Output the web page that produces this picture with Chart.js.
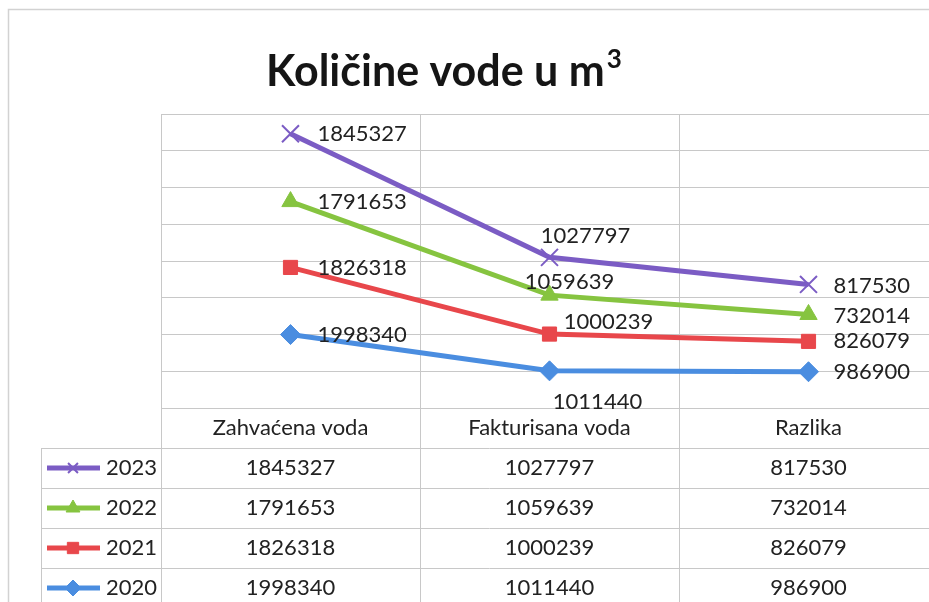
<!DOCTYPE html>
<html>
<head>
<meta charset="utf-8">
<script src="https://cdn.jsdelivr.net/npm/chart.js@4.4.0/dist/chart.umd.min.js"></script>
<style>
  html, body { margin: 0; padding: 0; background: #fff; overflow: hidden; }
  #wrap { width: 960px; height: 602px; position: relative; }
</style>
</head>
<body>
<div id="wrap"><canvas id="chart"></canvas></div>
<script>
// data
const categories = ['Zahvaćena voda', 'Fakturisana voda', 'Razlika'];
const years = ['2020', '2021', '2022', '2023'];
const values2020 = [1998340, 1011440, 986900];
const values2021 = [1826318, 1000239, 826079];
const values2022 = [1791653, 1059639, 732014];
const values2023 = [1845327, 1027797, 817530];
const yMax = 8000000;
const yStep = 1000000;

const colors = ['#4a8de0', '#e8474b', '#86c440', '#7b5cc4'];
const markers = ['rectRot', 'rect', 'triangle', 'crossRot'];
const markerSize = [10, 10, 10, 12];
const FONT = 'Lato, "Open Sans", sans-serif';
const TEXT = '#222';
const GRID = '#c8c8c8';

// label placement per dataset (2020..2023), per category
const labelPos = [
  [{dx: 27, dy: 0, a: 'left'}, {dx: 48, dy: 31, a: 'center'}, {dx: 25, dy: 0, a: 'left'}],
  [{dx: 27, dy: 0, a: 'left'}, {dx: 59, dy: -12, a: 'center'}, {dx: 25, dy: 0, a: 'left'}],
  [{dx: 27, dy: 0, a: 'left'}, {dx: 20, dy: -13, a: 'center'}, {dx: 25, dy: 1, a: 'left'}],
  [{dx: 27, dy: 0, a: 'left'}, {dx: 36, dy: -21, a: 'center'}, {dx: 25, dy: 1, a: 'left'}]
];

const seriesValues = [values2020, values2021, values2022, values2023];

const datasets = years.map((y, i) => ({
  label: y,
  data: seriesValues[i],
  borderColor: colors[i],
  backgroundColor: colors[i],
  borderWidth: 5,
  tension: 0,
  fill: false,
  pointStyle: markers[i],
  pointRadius: markerSize[i],
  pointHoverRadius: markerSize[i],
  pointBorderWidth: markers[i] === 'crossRot' ? 2 : 1,
  pointBorderColor: colors[i],
  pointBackgroundColor: colors[i]
}));

function drawMarker(ctx, style, r, x, y, color, bw) {
  ctx.save();
  ctx.fillStyle = color;
  ctx.strokeStyle = color;
  ctx.lineWidth = bw;
  if (Chart.helpers && Chart.helpers.drawPoint) {
    Chart.helpers.drawPoint(ctx, {pointStyle: style, radius: r, borderWidth: bw, rotation: 0}, x, y);
  }
  ctx.restore();
}

const extras = {
  id: 'extras',
  beforeDraw(chart) {
    const ctx = chart.ctx;
    ctx.save();
    ctx.fillStyle = '#fff';
    ctx.fillRect(0, 0, chart.width, chart.height);
    // outer frame
    ctx.strokeStyle = '#d2d2d2';
    ctx.lineWidth = 1.5;
    ctx.beginPath();
    ctx.moveTo(8.5, chart.height);
    ctx.lineTo(8.5, 9.5);
    ctx.lineTo(chart.width, 9.5);
    ctx.stroke();
    // title
    const main = 'Količine vode u m';
    ctx.fillStyle = '#151515';
    ctx.textBaseline = 'alphabetic';
    ctx.font = 'bold 43px ' + FONT;
    const w1 = ctx.measureText(main).width;
    ctx.font = 'bold 26px ' + FONT;
    const w2 = ctx.measureText('3').width;
    const left = 444 - (w1 + w2 + 2) / 2;
    ctx.font = 'bold 43px ' + FONT;
    ctx.fillText(main, left, 86);
    ctx.font = 'bold 26px ' + FONT;
    ctx.fillText('3', left + w1 + 2, 68);
    ctx.restore();
  },
  afterDatasetsDraw(chart) {
    const ctx = chart.ctx;
    ctx.save();
    ctx.font = '22px ' + FONT;
    ctx.fillStyle = TEXT;
    ctx.textBaseline = 'middle';
    chart.data.datasets.forEach((ds, di) => {
      const meta = chart.getDatasetMeta(di);
      meta.data.forEach((pt, ci) => {
        const p = labelPos[di][ci];
        ctx.textAlign = p.a;
        ctx.fillText(String(ds.data[ci]), pt.x + p.dx, pt.y + p.dy);
      });
    });
    ctx.restore();
  },
  afterDraw(chart) {
    const ctx = chart.ctx;
    const xs = chart.scales.x;
    const top = chart.chartArea.bottom;
    const rowH = 40;
    const legLeft = 41;
    const n = categories.length;
    const edges = [];
    for (let i = 0; i <= n; i++) {
      edges.push(xs.getPixelForValue(0) + (i - 0.5) * (xs.getPixelForValue(1) - xs.getPixelForValue(0)));
    }
    ctx.save();
    ctx.strokeStyle = GRID;
    ctx.lineWidth = 1;
    // horizontal lines
    ctx.beginPath();
    for (let r = 1; r <= 5; r++) {
      const y = Math.round(top + r * rowH) + 0.5;
      ctx.moveTo(legLeft, y);
      ctx.lineTo(edges[n], y);
    }
    // vertical lines
    edges.forEach(x => {
      const xx = Math.round(x) + 0.5;
      ctx.moveTo(xx, top);
      ctx.lineTo(xx, chart.height);
    });
    ctx.moveTo(legLeft + 0.5, top + rowH);
    ctx.lineTo(legLeft + 0.5, chart.height);
    ctx.stroke();

    // header
    ctx.font = '22px ' + FONT;
    ctx.fillStyle = TEXT;
    ctx.textBaseline = 'middle';
    ctx.textAlign = 'center';
    categories.forEach((c, i) => {
      ctx.fillText(c, xs.getPixelForValue(i), top + rowH / 2);
    });
    // rows: 2023 first
    for (let k = 0; k < years.length; k++) {
      const di = years.length - 1 - k;
      const yc = top + rowH * (k + 1) + rowH / 2;
      const ds = chart.data.datasets[di];
      ctx.textAlign = 'center';
      ctx.fillStyle = TEXT;
      ds.data.forEach((v, ci) => {
        ctx.fillText(String(v), xs.getPixelForValue(ci), yc);
      });
      // legend key
      ctx.strokeStyle = colors[di];
      ctx.lineWidth = 5;
      ctx.beginPath();
      ctx.moveTo(47, yc);
      ctx.lineTo(100, yc);
      ctx.stroke();
      drawMarker(ctx, markers[di], markers[di] === 'crossRot' ? 7 : 8, 73, yc, colors[di], markers[di] === 'crossRot' ? 2 : 1);
      ctx.fillStyle = TEXT;
      ctx.textAlign = 'right';
      ctx.fillText(ds.label, 157, yc);
    }
    ctx.restore();
  }
};

const ctx = document.getElementById('chart').getContext('2d');
const chart = new Chart(ctx, {
  type: 'line',
  data: { labels: categories, datasets: datasets },
  options: {
    responsive: true,
    maintainAspectRatio: false,
    animation: false,
    layout: { padding: { left: 161, top: 114, right: 22, bottom: 194 } },
    scales: {
      y: {
        stacked: true,
        min: 0,
        max: yMax,
        ticks: { display: false, stepSize: yStep },
        grid: { color: GRID, drawTicks: false },
        border: { display: true, color: GRID },
        afterFit: s => { s.width = 0; }
      },
      x: {
        offset: true,
        ticks: { display: false },
        grid: { color: GRID, offset: true, drawTicks: false },
        border: { display: true, color: GRID },
        afterFit: s => { s.height = 0; }
      }
    },
    plugins: {
      legend: { display: false },
      title: { display: false },
      tooltip: { enabled: false }
    }
  },
  plugins: [extras]
});
</script>
</body>
</html>
